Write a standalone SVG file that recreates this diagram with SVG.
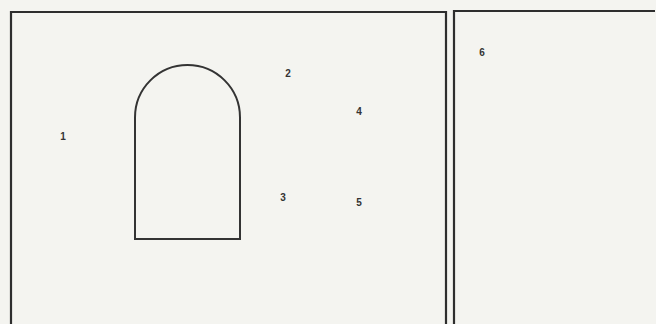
<svg xmlns="http://www.w3.org/2000/svg" width="656" height="324" viewBox="0 0 656 324">
<style>
.frame{fill:none;stroke:#2e2e2e;stroke-width:2.2}
.shape{fill:none;stroke:#333;stroke-width:2}
.lbl{font-family:"Liberation Sans",Arial,sans-serif;font-size:10px;font-weight:bold;fill:#333;text-anchor:middle}
</style>
<rect x="0" y="0" width="656" height="324" fill="#f4f4f0"/>
<g id="panel-left"><path class="frame" d="M11,325 V12 H446 V325"/></g>
<g id="panel-right"><path class="frame" d="M454,325 V11 H655"/></g>
<g id="arch"><path class="shape" d="M135,239 V117.5 A52.5,52.5 0 0 1 240,117.5 V239 Z"/></g>
<g id="connectors"></g>
<g id="labels">
<text class="lbl" x="63" y="140">1</text>
<text class="lbl" x="288" y="77">2</text>
<text class="lbl" x="283" y="201">3</text>
<text class="lbl" x="359" y="115">4</text>
<text class="lbl" x="359" y="206">5</text>
<text class="lbl" x="482" y="56">6</text>
</g>
</svg>
